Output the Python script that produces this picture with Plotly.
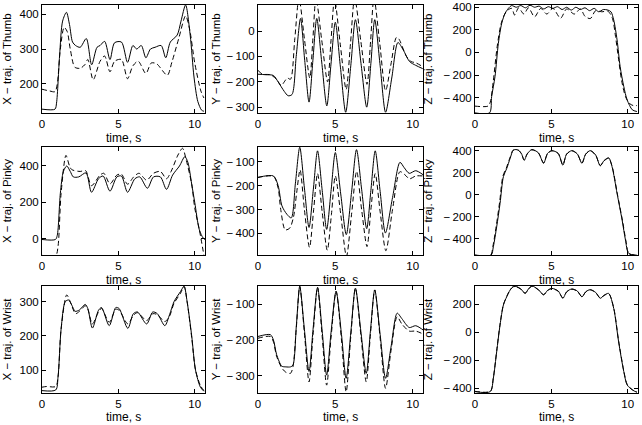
import plotly.graph_objects as go

# ---------------- data ----------------
# Panel: X-traj of Thumb
xt_t_s = [0, 0.85, 0.95, 1.15, 1.35, 1.6, 1.8, 2.0, 2.2, 2.5, 2.9, 3.25, 3.6, 3.8, 4.1, 4.45, 4.75, 5.2, 5.6, 5.95, 6.2, 6.5, 6.8, 7.1, 7.4, 7.8, 8.1, 8.4, 8.85, 9.1, 9.4, 9.7, 9.95, 10.2, 10.45, 10.6]
xt_v_s = [128, 128, 145, 280, 380, 405, 370, 320, 310, 305, 330, 255, 305, 310, 322, 270, 318, 320, 262, 310, 300, 310, 275, 300, 305, 310, 275, 320, 340, 380, 426, 340, 220, 150, 125, 122]
xt_t_d = [0, 0.5, 0.85, 1.0, 1.2, 1.45, 1.65, 1.85, 2.15, 2.5, 2.8, 3.0, 3.35, 3.8, 4.1, 4.45, 4.75, 5.2, 5.6, 5.95, 6.3, 6.8, 7.15, 7.5, 8.2, 8.5, 8.95, 9.4, 9.65, 10.0, 10.4, 10.6]
xt_v_d = [185, 180, 178, 200, 300, 362, 350, 300, 248, 245, 255, 270, 212, 265, 280, 235, 265, 270, 215, 252, 265, 230, 260, 258, 225, 262, 330, 395, 360, 260, 180, 160]

# Panel: Y-traj of Thumb
yt_t_s = [0, 0.5, 1.0, 1.3, 1.7, 1.95, 2.2, 2.47, 2.75, 3.02, 3.3, 3.55, 3.8, 4.12, 4.45, 4.72, 5.0, 5.33, 5.67, 6.0, 6.3, 6.66, 7.03, 7.3, 7.55, 7.9, 8.25, 8.65, 9.05, 9.4, 9.8, 10.2, 10.65]
yt_v_s = [-170, -172, -175, -200, -238, -255, -250, -100, 50, -115, -280, -115, 50, -122, -295, -130, 35, -142, -320, -137, 45, -127, -300, -127, 45, -137, -320, -185, -45, -75, -120, -135, -148]
yt_t_d = [0, 0.3, 0.8, 1.2, 1.5, 1.7, 1.9, 2.1, 2.38, 2.65, 3.0, 3.35, 3.55, 3.75, 4.12, 4.5, 4.72, 4.95, 5.32, 5.7, 5.98, 6.25, 6.65, 7.05, 7.28, 7.5, 7.88, 8.25, 8.6, 8.95, 9.1, 9.6, 9.9, 10.2, 10.65]
yt_v_d = [-155, -170, -172, -190, -215, -200, -185, -190, -30, 130, -30, -185, -30, 130, -35, -200, -38, 125, -52, -230, -50, 130, -40, -210, -40, 130, -52, -235, -130, -25, -30, -100, -120, -125, -140]

# Panel: Z-traj of Thumb
zt_t_s = [0, 0.95, 1.09, 1.31, 1.53, 1.75, 1.97, 2.19, 2.4, 2.7, 3.0, 3.3, 3.6, 3.9, 4.2, 4.5, 4.8, 5.1, 5.4, 5.7, 6.0, 6.3, 6.6, 6.9, 7.2, 7.5, 7.8, 8.1, 8.4, 8.7, 8.9, 9.08, 9.3, 9.5, 9.74, 9.96, 10.3, 10.6]
zt_v_s = [-535, -535, -390, -213, 81, 258, 347, 391, 415, 400, 415, 395, 418, 400, 410, 385, 405, 390, 405, 380, 400, 375, 400, 380, 395, 370, 390, 360, 380, 375, 360, 288, 111, -125, -302, -420, -508, -523]
zt_t_d = [0, 0.85, 1.0, 1.2, 1.45, 1.7, 1.95, 2.2, 2.4, 2.6, 2.85, 3.2, 3.5, 3.9, 4.3, 4.7, 5.1, 5.6, 6.0, 6.5, 6.9, 7.2, 7.55, 7.9, 8.3, 8.7, 9.0, 9.2, 9.4, 9.6, 9.85, 10.1, 10.35, 10.6]
zt_v_d = [-475, -475, -440, -250, 50, 250, 340, 380, 390, 330, 395, 340, 395, 315, 390, 340, 390, 303, 385, 340, 385, 320, 300, 370, 360, 365, 300, 140, -60, -250, -390, -450, -470, -470]

# Panel: X-traj of Pinky
xp_t_s = [0, 0.88, 1.0, 1.2, 1.4, 1.62, 1.85, 2.05, 2.4, 2.88, 3.24, 3.7, 4.0, 4.45, 4.9, 5.2, 5.6, 6.08, 6.4, 6.9, 7.3, 7.75, 8.15, 8.55, 9.0, 9.35, 9.55, 9.8, 10.0, 10.3, 10.55, 10.7]
xp_v_s = [-3, -3, 20, 250, 370, 400, 370, 340, 340, 362, 256, 330, 345, 262, 340, 345, 256, 330, 340, 278, 340, 340, 272, 350, 400, 451, 420, 300, 200, 50, 5, -5]
xp_t_d = [0, 0.9, 1.05, 1.25, 1.57, 1.8, 1.95, 2.5, 2.85, 3.24, 3.8, 4.05, 4.45, 4.9, 5.2, 5.6, 6.0, 6.35, 6.85, 7.3, 7.75, 8.15, 8.45, 8.9, 9.2, 9.45, 9.8, 10.0, 10.3, 10.6]
xp_v_d = [-90, -90, -40, 250, 458, 400, 380, 370, 375, 292, 350, 360, 302, 350, 355, 300, 340, 360, 322, 360, 370, 330, 370, 460, 497, 430, 300, 170, 50, -90]

# Panel: Y-traj of Pinky
yp_t_s = [0, 1.0, 1.3, 1.55, 1.87, 2.15, 2.42, 2.7, 3.0, 3.3, 3.58, 3.85, 4.15, 4.44, 4.72, 5.0, 5.35, 5.71, 6.05, 6.37, 6.7, 7.03, 7.3, 7.58, 7.9, 8.24, 8.7, 9.18, 9.45, 9.78, 10.2, 10.7]
yp_v_s = [-166, -160, -200, -285, -320, -335, -190, -40, -210, -375, -215, -55, -220, -383, -225, -62, -235, -405, -228, -50, -215, -380, -220, -55, -225, -398, -250, -103, -125, -149, -138, -156]
yp_t_d = [0, 1.0, 1.3, 1.47, 1.76, 2.05, 2.3, 2.5, 2.72, 3.0, 3.33, 3.6, 3.85, 4.15, 4.48, 4.75, 5.0, 5.35, 5.72, 6.05, 6.38, 6.7, 7.05, 7.3, 7.58, 7.9, 8.27, 8.7, 9.18, 9.5, 9.8, 10.2, 10.7]
yp_v_d = [-166, -162, -210, -300, -385, -378, -330, -230, -135, -300, -458, -300, -150, -310, -470, -320, -160, -320, -495, -320, -140, -300, -455, -300, -150, -310, -472, -300, -142, -155, -172, -160, -160]

# Panel: Z-traj of Pinky
zp_t_s = [0, 1.05, 1.2, 1.42, 1.64, 1.86, 2.08, 2.3, 2.52, 2.84, 3.05, 3.22, 3.42, 3.72, 4.15, 4.49, 4.75, 5.03, 5.45, 5.75, 6.0, 6.35, 6.7, 7.0, 7.25, 7.55, 7.9, 8.2, 8.45, 8.75, 8.97, 9.3, 9.63, 9.85, 10.06, 10.6]
zp_v_s = [-550, -550, -473, -291, -79, 164, 239, 330, 406, 405, 370, 312, 370, 410, 380, 285, 375, 400, 375, 268, 370, 400, 370, 285, 370, 400, 360, 262, 310, 335, 255, 12, -230, -412, -533, -550]
zp_t_d = [0, 1.02, 1.17, 1.39, 1.61, 1.83, 2.05, 2.28, 2.5, 2.84, 3.05, 3.22, 3.42, 3.72, 4.15, 4.49, 4.75, 5.03, 5.45, 5.75, 6.0, 6.35, 6.7, 7.0, 7.25, 7.55, 7.9, 8.2, 8.45, 8.75, 8.99, 9.32, 9.66, 9.88, 10.08, 10.6]
zp_v_d = [-548, -548, -470, -285, -70, 170, 242, 332, 404, 402, 368, 315, 372, 407, 378, 290, 373, 398, 372, 272, 368, 398, 368, 288, 368, 398, 358, 266, 308, 330, 250, 5, -240, -420, -538, -548]

# Panel: X-traj of Wrist
xw_t_s = [0, 0.9, 1.05, 1.25, 1.52, 1.74, 1.95, 2.17, 2.45, 2.83, 3.0, 3.3, 3.7, 3.9, 4.4, 4.83, 5.05, 5.62, 5.98, 6.25, 6.85, 7.25, 7.55, 8.04, 8.35, 8.64, 9.07, 9.3, 9.5, 9.8, 10.05, 10.37, 10.6]
xw_v_s = [40, 42, 80, 220, 300, 305, 290, 272, 276, 292, 280, 223, 275, 283, 230, 283, 280, 222, 265, 270, 235, 270, 265, 230, 262, 300, 330, 345, 300, 200, 100, 50, 38]
xw_t_d = [0, 0.3, 0.9, 1.05, 1.25, 1.62, 1.85, 2.2, 2.45, 2.83, 3.0, 3.3, 3.7, 3.9, 4.4, 4.83, 5.05, 5.62, 5.98, 6.25, 6.85, 7.25, 7.55, 8.04, 8.35, 8.64, 9.07, 9.3, 9.5, 9.8, 10.05, 10.37, 10.6]
xw_v_d = [50, 52, 52, 80, 220, 320, 300, 265, 272, 288, 278, 235, 270, 280, 240, 278, 275, 235, 260, 268, 245, 265, 262, 242, 258, 295, 325, 345, 300, 195, 100, 55, 40]

# Panel: Y-traj of Wrist
yw_t_s = [0, 0.8, 1.0, 1.2, 1.54, 1.8, 2.1, 2.26, 2.48, 2.7, 3.0, 3.3, 3.56, 3.85, 4.15, 4.44, 4.72, 5.05, 5.4, 5.7, 6.0, 6.3, 6.65, 7.0, 7.27, 7.55, 7.9, 8.25, 8.6, 9.0, 9.3, 9.78, 10.2, 10.77]
yw_v_s = [-190, -185, -200, -240, -273, -275, -275, -270, -160, -50, -170, -288, -170, -53, -175, -298, -180, -64, -185, -307, -180, -55, -175, -293, -175, -60, -185, -307, -220, -125, -140, -165, -160, -175]
yw_t_d = [0, 0.8, 1.0, 1.2, 1.54, 1.8, 2.1, 2.26, 2.48, 2.7, 3.0, 3.3, 3.56, 3.85, 4.15, 4.44, 4.72, 5.05, 5.4, 5.7, 6.0, 6.3, 6.65, 7.0, 7.27, 7.55, 7.9, 8.25, 8.6, 9.0, 9.3, 9.78, 10.2, 10.77]
yw_v_d = [-195, -190, -205, -245, -278, -290, -293, -275, -165, -50, -180, -317, -185, -53, -190, -326, -195, -64, -200, -345, -190, -55, -185, -317, -185, -60, -195, -335, -230, -135, -155, -175, -175, -185]

# Panel: Z-traj of Wrist
zw_t_s = [0, 1.0, 1.2, 1.42, 1.64, 1.86, 2.08, 2.3, 2.52, 2.74, 3.0, 3.28, 3.5, 3.72, 4.15, 4.49, 4.75, 5.03, 5.45, 5.75, 6.0, 6.35, 6.7, 7.0, 7.25, 7.55, 7.9, 8.2, 8.45, 8.75, 9.08, 9.4, 9.74, 9.96, 10.3, 10.6]
zw_v_s = [-424, -424, -329, -138, 52, 195, 255, 302, 326, 326, 310, 278, 310, 331, 305, 267, 300, 314, 295, 243, 290, 310, 295, 253, 290, 305, 285, 243, 265, 278, 171, -67, -281, -376, -412, -429]
zw_t_d = [0, 1.0, 1.2, 1.42, 1.64, 1.86, 2.08, 2.3, 2.52, 2.74, 3.0, 3.28, 3.5, 3.72, 4.15, 4.49, 4.75, 5.03, 5.45, 5.75, 6.0, 6.35, 6.7, 7.0, 7.25, 7.55, 7.9, 8.2, 8.45, 8.75, 9.08, 9.4, 9.74, 9.96, 10.3, 10.6]
zw_v_d = [-422, -422, -325, -132, 58, 198, 257, 304, 328, 324, 308, 280, 308, 329, 303, 270, 298, 312, 293, 247, 288, 308, 293, 256, 288, 303, 283, 246, 263, 276, 175, -60, -276, -372, -410, -427]

x_title = "time, s"
y_titles = [["X − traj. of Thumb", "Y − traj. of Thumb", "Z − traj. of Thumb"],
            ["X − traj. of Pinky", "Y − traj. of Pinky", "Z − traj. of Pinky"],
            ["X − traj. of Wrist", "Y − traj. of Wrist", "Z − traj. of Wrist"]]
y_ticks = [[[200, 300, 400], [-300, -200, -100, 0, 100], [-400, -200, 0, 200, 400]],
           [[0, 200, 400], [-400, -300, -200, -100], [-400, -200, 0, 200, 400]],
           [[100, 200, 300], [-300, -200, -100], [-400, -200, 0, 200]]]
y_ranges = [[[117, 426], [-323, 103], [-536, 420]],
            [[-88, 504], [-490, -39], [-548, 433]],
            [[33, 346], [-348, -49], [-434, 331]]]
x_ticks = [0, 5, 10]
x_range = [0, 10.67]

series = [[(xt_t_s, xt_v_s, xt_t_d, xt_v_d), (yt_t_s, yt_v_s, yt_t_d, yt_v_d), (zt_t_s, zt_v_s, zt_t_d, zt_v_d)],
          [(xp_t_s, xp_v_s, xp_t_d, xp_v_d), (yp_t_s, yp_v_s, yp_t_d, yp_v_d), (zp_t_s, zp_v_s, zp_t_d, zp_v_d)],
          [(xw_t_s, xw_v_s, xw_t_d, xw_v_d), (yw_t_s, yw_v_s, yw_t_d, yw_v_d), (zw_t_s, zw_v_s, zw_t_d, zw_v_d)]]


def tick_label(v):
    # MATLAB-style long minus followed by a thin gap
    return ("\u2212\u2009" + str(-v)) if v < 0 else str(v)


# ---------------- layout ----------------
W, H = 642, 425
col_px = [(42, 205), (258, 423), (475, 638)]
row_px = [(5, 113), (147, 255), (286, 393)]
ytitle_standoff = [5, 3, 8]
xtitle_gap = 25   # px from bottom of plot box to centre of the x title

FONT = "Liberation Sans, Arial, sans-serif"
fig = go.Figure()
layout = dict(width=W, height=H, margin=dict(l=0, r=0, t=0, b=0),
              paper_bgcolor="white", plot_bgcolor="white", showlegend=False,
              font=dict(family=FONT, size=12, color="black"))
annotations = []

k = 0
for r in range(3):
    for c in range(3):
        k += 1
        xa = "x" if k == 1 else f"x{k}"
        ya = "y" if k == 1 else f"y{k}"
        ts, vs, td, vd = series[r][c]
        fig.add_trace(go.Scatter(x=td, y=vd, xaxis=xa, yaxis=ya, mode="lines",
                                 line=dict(color="black", width=1, dash="5px,3px", shape="spline", smoothing=0.8)))
        fig.add_trace(go.Scatter(x=ts, y=vs, xaxis=xa, yaxis=ya, mode="lines",
                                 line=dict(color="black", width=1, shape="spline", smoothing=0.8)))
        x0, x1 = col_px[c]
        y0, y1 = row_px[r]
        axis_common = dict(showline=True, linecolor="black", linewidth=1, mirror="ticks",
                           ticks="inside", ticklen=4, tickcolor="black", showgrid=False,
                           zeroline=False, automargin=False, tickfont=dict(size=11.5, family=FONT))
        layout["xaxis" if k == 1 else f"xaxis{k}"] = dict(
            domain=[x0 / W, x1 / W], anchor=ya, range=x_range, tickvals=x_ticks, **axis_common)
        yt = y_ticks[r][c]
        layout["yaxis" if k == 1 else f"yaxis{k}"] = dict(
            domain=[1 - y1 / H, 1 - y0 / H], anchor=xa, range=y_ranges[r][c],
            tickvals=yt, ticktext=[tick_label(v) for v in yt],
            title=dict(text=y_titles[r][c], standoff=ytitle_standoff[c], font=dict(size=11.5, family=FONT)),
            **axis_common)
        if r < 2:
            ann_y, ann_anchor = 1 - (y1 + xtitle_gap) / H, "middle"
        else:
            ann_y, ann_anchor = 0, "bottom"   # keep the bottom row's title inside the page
        annotations.append(dict(text=x_title, xref="paper", yref="paper",
                                x=(x0 + x1) / 2 / W, y=ann_y, borderpad=0,
                                xanchor="center", yanchor=ann_anchor, showarrow=False,
                                font=dict(size=12, family=FONT, color="black")))

layout["annotations"] = annotations
fig.update_layout(**layout)
fig.write_html("out.html")
